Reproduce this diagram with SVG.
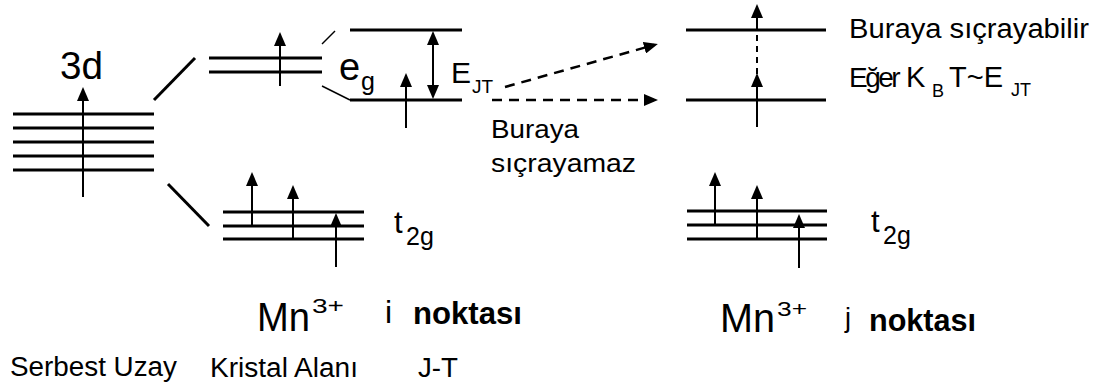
<svg xmlns="http://www.w3.org/2000/svg" width="1108" height="392" viewBox="0 0 1108 392">
  <style>
    .lvl { stroke: #000; stroke-width: 3; fill: none; }
    .split { stroke: #000; stroke-width: 3; fill: none; }
    .thin { stroke: #000; stroke-width: 1.5; fill: none; }
    .spin { stroke: #000; stroke-width: 2; fill: none; marker-end: url(#ah); }
    .hop { stroke: #000; stroke-width: 2.5; fill: none; stroke-dasharray: 10 7; marker-end: url(#ah); }
    text { font-family: "Liberation Sans", Arial, sans-serif; fill: #000; }
    .bold { font-weight: bold; }
  </style>
  <defs>
    <marker id="ah" markerUnits="userSpaceOnUse" markerWidth="14" markerHeight="12" refX="10" refY="6" orient="auto-start-reverse">
      <path d="M0,0 L14,6 L0,12 z" fill="#000"/>
    </marker>
  </defs>
  <rect width="1108" height="392" fill="#fff"/>

  <!-- free ion: five degenerate 3d levels -->
  <g id="free-ion-3d">
    <path class="lvl" d="M13,114H154M13,128H154M13,142H154M13,156H154M13,170H154"/>
    <line class="spin" x1="83" y1="197" x2="83" y2="91"/>
    <text x="60" y="79" font-size="38" textLength="43" lengthAdjust="spacingAndGlyphs">3d</text>
  </g>

  <!-- crystal field: eg doublet -->
  <g id="crystal-field-eg">
    <path class="lvl" d="M209,58H322M209,72H322"/>
    <line class="spin" x1="280" y1="86" x2="280" y2="36"/>
    <text x="339" y="80" font-size="38">e</text>
    <text x="361" y="90" font-size="25">g</text>
  </g>

  <!-- crystal field: t2g triplet -->
  <g id="crystal-field-t2g">
    <path class="lvl" d="M223,212H364M223,226H364M223,239H364"/>
    <line class="spin" x1="252" y1="226" x2="252" y2="176"/>
    <line class="spin" x1="293" y1="239" x2="293" y2="189"/>
    <line class="spin" x1="336" y1="267" x2="336" y2="217"/>
    <text x="394" y="233" font-size="31">t</text>
    <text x="406" y="245" font-size="25">2g</text>
  </g>

  <!-- Jahn-Teller split eg levels at site i -->
  <g id="jt-site-i">
    <path class="lvl" d="M350,30H462M350,100H462"/>
    <line class="spin" x1="406" y1="128" x2="406" y2="77"/>
    <line x1="433" y1="35" x2="433" y2="95" stroke="#000" stroke-width="2" marker-start="url(#ah)" marker-end="url(#ah)"/>
    <text x="451" y="83" font-size="30">E</text>
    <text x="472" y="93" font-size="19">JT</text>
  </g>

  <!-- site j: eg levels -->
  <g id="site-j-eg">
    <path class="lvl" d="M686,30H826M686,100H826"/>
    <line x1="757" y1="35" x2="757" y2="76" stroke="#000" stroke-width="2" stroke-dasharray="6 5"/>
    <line class="spin" x1="757" y1="30" x2="757" y2="8"/>
    <line class="spin" x1="757" y1="127" x2="757" y2="77"/>
    <text x="849" y="38" font-size="27" textLength="240" lengthAdjust="spacingAndGlyphs">Buraya sıçrayabilir</text>
    <text x="849" y="87" font-size="28" letter-spacing="-2.5">Eğer</text>
    <text x="906" y="87" font-size="29">K</text>
    <text x="932" y="97" font-size="18">B</text>
    <text x="949" y="87" font-size="29">T~E</text>
    <text x="1011" y="96" font-size="18">JT</text>
  </g>

  <!-- site j: t2g levels -->
  <g id="site-j-t2g">
    <path class="lvl" d="M687,211H827M687,225H827M687,239H827"/>
    <line class="spin" x1="715" y1="225" x2="715" y2="176"/>
    <line class="spin" x1="757" y1="239" x2="757" y2="189"/>
    <line class="spin" x1="799" y1="268" x2="799" y2="218"/>
    <text x="871" y="232" font-size="31">t</text>
    <text x="883" y="244" font-size="25">2g</text>
  </g>

  <!-- hopping annotation -->
  <g id="hop-label">
    <text x="491" y="138" font-size="25" textLength="88" lengthAdjust="spacingAndGlyphs">Buraya</text>
    <text x="491" y="172" font-size="25" textLength="145" lengthAdjust="spacingAndGlyphs">sıçrayamaz</text>
  </g>

  <!-- ion and site labels -->
  <g id="labels">
    <text x="257" y="331" font-size="40" textLength="53" lengthAdjust="spacingAndGlyphs">Mn</text>
    <text x="312" y="313" font-size="20" textLength="32" lengthAdjust="spacingAndGlyphs">3+</text>
    <text x="385" y="323" font-size="32">i</text>
    <text class="bold" x="413" y="324" font-size="31" textLength="109" lengthAdjust="spacingAndGlyphs">noktası</text>
    <text x="720" y="332" font-size="40" textLength="55" lengthAdjust="spacingAndGlyphs">Mn</text>
    <text x="777" y="316" font-size="21" textLength="30" lengthAdjust="spacingAndGlyphs">3+</text>
    <text x="845" y="327" font-size="27">j</text>
    <text class="bold" x="869" y="331" font-size="31" textLength="107" lengthAdjust="spacingAndGlyphs">noktası</text>
    <text x="10" y="376" font-size="27" textLength="167" lengthAdjust="spacingAndGlyphs">Serbest Uzay</text>
    <text x="210" y="377" font-size="27" textLength="148" lengthAdjust="spacingAndGlyphs">Kristal Alanı</text>
    <text x="418" y="377" font-size="27" textLength="40" lengthAdjust="spacingAndGlyphs">J-T</text>
  </g>

  <!-- splitting correlation lines and hopping paths -->
  <g id="connectors">
    <line class="split" x1="154" y1="100" x2="195" y2="58"/>
    <line class="split" x1="168" y1="184" x2="209" y2="226"/>
    <line class="thin" x1="322" y1="44" x2="335" y2="31"/>
    <line class="thin" x1="322" y1="86" x2="350" y2="100"/>
    <line class="hop" x1="505" y1="87" x2="654" y2="45"/>
    <line class="hop" x1="492" y1="100" x2="654" y2="100"/>
  </g>
</svg>
